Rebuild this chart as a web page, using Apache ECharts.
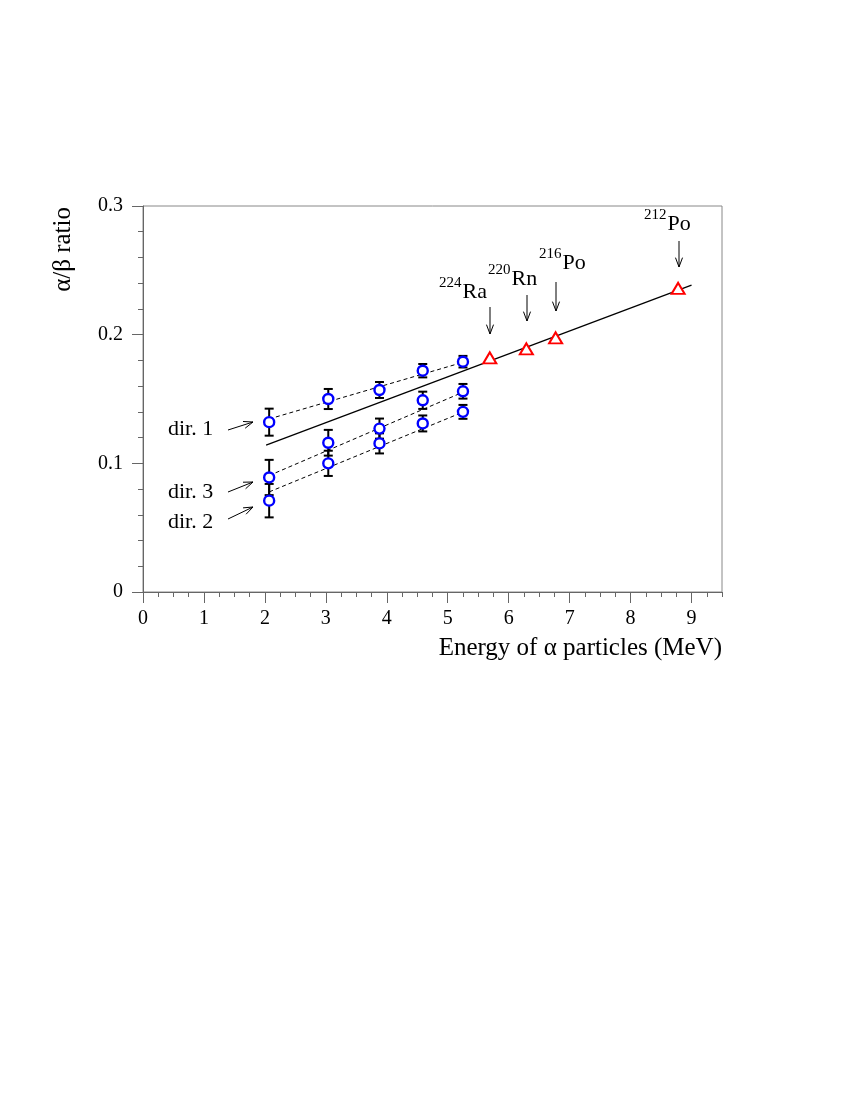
<!DOCTYPE html>
<html>
<head>
<meta charset="utf-8">
<script src="https://cdn.jsdelivr.net/npm/echarts@6/dist/echarts.min.js"></script>
<style>
  html, body { margin: 0; padding: 0; background: #fff; }
  #main { width: 850px; height: 1100px; }
</style>
</head>
<body>
<div id="main"></div>
<script>
// energies of the alpha lines seen in each direction (MeV)
var energyDir = [2.07, 3.04, 3.88, 4.59, 5.25];
// alpha/beta ratio per direction, with errors
var ratioDir1 = [0.132, 0.150, 0.157, 0.172, 0.179];
var errDir1 = [0.0105, 0.0078, 0.0062, 0.0052, 0.0045];
var ratioDir3 = [0.089, 0.116, 0.127, 0.149, 0.156];
var errDir3 = [0.0137, 0.0100, 0.0078, 0.0067, 0.0057];
var ratioDir2 = [0.071, 0.100, 0.1155, 0.131, 0.140];
var errDir2 = [0.0130, 0.0098, 0.0078, 0.0062, 0.0054];
// dashed fits per direction: [E, ratio] end points
var fitDir1 = [[2.07, 0.1345], [5.25, 0.1785]];
var fitDir3 = [[2.07, 0.0905], [5.25, 0.1553]];
var fitDir2 = [[2.07, 0.0778], [5.25, 0.1398]];
// internal alpha sources (224Ra, 220Rn, 216Po, 212Po)
var energyInt = [5.69, 6.29, 6.77, 8.78];
var ratioInt = [0.182, 0.189, 0.1975, 0.236];
// solid global fit
var fitAll = [[2.02, 0.1142], [9.0, 0.2385]];

var serif = 'Liberation Serif';

function pts(xs, ys, es) {
  return xs.map(function (x, i) { return es ? [x, ys[i], es[i]] : [x, ys[i]]; });
}

function errorBars(data) {
  return {
    type: 'custom',
    z: 3,
    data: data,
    renderItem: function (params, api) {
      var x = api.value(0), y = api.value(1), e = api.value(2);
      var top = api.coord([x, y + e]);
      var bot = api.coord([x, y - e]);
      var w = 4.5;
      var st = { stroke: '#000', lineWidth: 2 };
      return {
        type: 'group',
        children: [
          { type: 'line', shape: { x1: top[0], y1: top[1], x2: bot[0], y2: bot[1] }, style: st },
          { type: 'line', shape: { x1: top[0] - w, y1: top[1], x2: top[0] + w, y2: top[1] }, style: st },
          { type: 'line', shape: { x1: bot[0] - w, y1: bot[1], x2: bot[0] + w, y2: bot[1] }, style: st }
        ]
      };
    }
  };
}

function dashed(data) {
  return {
    type: 'line', data: data, showSymbol: false, silent: true, z: 2,
    lineStyle: { color: '#000', width: 1, type: [4, 3] }
  };
}

function circles(data) {
  return {
    type: 'scatter', data: data, symbol: 'circle', symbolSize: 10, z: 5,
    itemStyle: { color: '#fff', borderColor: '#0000ff', borderWidth: 2.4, opacity: 1 }
  };
}

// arrow annotation: shaft plus open head
function arrow(x1, y1, x2, y2) {
  var a = Math.atan2(y2 - y1, x2 - x1), L = 10, h = 0.36;
  var st = { stroke: '#000', lineWidth: 1, fill: null };
  return {
    type: 'group',
    children: [
      { type: 'line', shape: { x1: x1, y1: y1, x2: x2, y2: y2 }, style: st },
      { type: 'polyline', shape: { points: [
        [x2 - L * Math.cos(a - h), y2 - L * Math.sin(a - h)], [x2, y2],
        [x2 - L * Math.cos(a + h), y2 - L * Math.sin(a + h)]] }, style: st }
    ]
  };
}

function label(x, y, txt, size) {
  return {
    type: 'text', x: x, y: y,
    style: { text: txt, font: (size || 22) + 'px "' + serif + '"', fill: '#000',
      align: 'left', verticalAlign: 'middle' }
  };
}

// isotope label: superscript mass number then symbol, baseline given
function isotope(x, base, mass, sym) {
  return {
    type: 'group',
    children: [
      label(x, base - 17, mass, 15),
      label(x + 23.5, base - 8, sym, 22)
    ]
  };
}

var chart = echarts.init(document.getElementById('main'), null, { renderer: 'canvas' });

var tickColor = '#666';

chart.setOption({
  animation: false,
  backgroundColor: '#fff',
  grid: {
    left: 143, right: 128, top: 206, bottom: 508,
    show: true, borderColor: '#888', borderWidth: 1, backgroundColor: 'transparent'
  },
  xAxis: [
    {
      type: 'value', min: 0, max: 9.5, interval: 1,
      axisLine: { show: true, lineStyle: { color: tickColor, width: 1 } },
      axisTick: { show: true, length: 11, lineStyle: { color: tickColor } },
      axisLabel: { showMaxLabel: false, margin: 17, color: '#000', fontFamily: serif, fontSize: 20 },
      splitLine: { show: false }
    },
    {
      type: 'value', min: 0, max: 9.5, interval: 0.25, position: 'bottom',
      axisLine: { show: false },
      axisTick: { show: true, length: 5, lineStyle: { color: tickColor } },
      axisLabel: { show: false },
      splitLine: { show: false }
    }
  ],
  yAxis: [
    {
      type: 'value', min: 0, max: 0.3, interval: 0.1,
      axisLine: { show: true, lineStyle: { color: tickColor, width: 1 } },
      axisTick: { show: true, length: 11, lineStyle: { color: tickColor } },
      axisLabel: { margin: 20, color: '#000', fontFamily: serif, fontSize: 20 },
      splitLine: { show: false }
    },
    {
      type: 'value', min: 0, max: 0.3, interval: 0.02, position: 'left',
      axisLine: { show: false },
      axisTick: { show: true, length: 5, lineStyle: { color: tickColor } },
      axisLabel: { show: false },
      splitLine: { show: false }
    }
  ],
  series: [
    dashed(fitDir1),
    dashed(fitDir3),
    dashed(fitDir2),
    {
      type: 'line', data: fitAll, showSymbol: false, silent: true, z: 2,
      lineStyle: { color: '#000', width: 1.3 }
    },
    errorBars(pts(energyDir, ratioDir1, errDir1)),
    errorBars(pts(energyDir, ratioDir3, errDir3)),
    errorBars(pts(energyDir, ratioDir2, errDir2)),
    circles(pts(energyDir, ratioDir1)),
    circles(pts(energyDir, ratioDir3)),
    circles(pts(energyDir, ratioDir2)),
    {
      type: 'scatter', data: pts(energyInt, ratioInt), symbol: 'triangle',
      symbolSize: [13, 11], z: 5,
      itemStyle: { color: '#fff', borderColor: '#ff0000', borderWidth: 2, opacity: 1 }
    }
  ],
  graphic: [
    // axis titles
    {
      type: 'text', x: 722, y: 648,
      style: { text: 'Energy of \u03b1 particles (MeV)', font: '25px "' + serif + '"',
        fill: '#000', align: 'right', verticalAlign: 'middle' }
    },
    {
      type: 'text', x: 63, y: 207, rotation: Math.PI / 2,
      style: { text: '\u03b1/\u03b2 ratio', font: '25px "' + serif + '"',
        fill: '#000', align: 'right', verticalAlign: 'middle' }
    },
    // direction labels
    label(168, 429, 'dir. 1'),
    label(168, 492, 'dir. 3'),
    label(168, 522, 'dir. 2'),
    arrow(228, 430, 253, 422),
    arrow(228, 492, 253, 482),
    arrow(228, 519, 253, 507),
    // isotope labels
    isotope(439, 300, '224', 'Ra'),
    isotope(488, 287, '220', 'Rn'),
    isotope(539, 271, '216', 'Po'),
    isotope(644, 232, '212', 'Po'),
    arrow(490, 307, 490, 334),
    arrow(527, 295, 527, 321),
    arrow(556, 282, 556, 311),
    arrow(679, 241, 679, 267)
  ]
});
</script>
</body>
</html>
